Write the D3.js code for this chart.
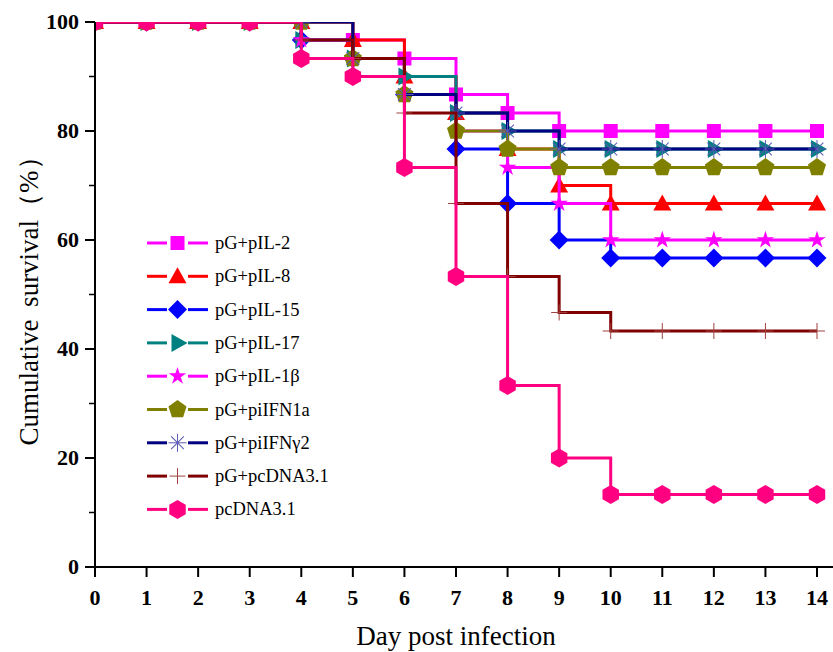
<!DOCTYPE html>
<html>
<head>
<meta charset="utf-8">
<script src="https://cdn.jsdelivr.net/npm/d3@7"></script>
<style>
  html, body { margin: 0; padding: 0; background: #fff; }
  svg { display: block; }
</style>
</head>
<body>
<div id="chart"></div>
<script>
// Kaplan-Meier style survival curves, one step line per treatment group.

const days = [0, 1, 2, 3, 4, 5, 6, 7, 8, 9, 10, 11, 12, 13, 14];
const xTicks = [0, 1, 2, 3, 4, 5, 6, 7, 8, 9, 10, 11, 12, 13, 14];
const yTicks = [0, 20, 40, 60, 80, 100];
const yMinorTicks = [10, 30, 50, 70, 90];

const groups = ['pG+pIL-2', 'pG+pIL-8', 'pG+pIL-15', 'pG+pIL-17', 'pG+pIL-1β',
                'pG+piIFN1a', 'pG+piIFNγ2', 'pG+pcDNA3.1', 'pcDNA3.1'];

const survIL2     = [100, 100, 100, 100, 100, 96.7, 93.3, 86.7, 83.3, 80, 80, 80, 80, 80, 80];
const survIL8     = [100, 100, 100, 100, 100, 96.7, 90, 83.3, 76.7, 70, 66.7, 66.7, 66.7, 66.7, 66.7];
const survIL15    = [100, 100, 100, 100, 96.7, 93.3, 86.7, 76.7, 66.7, 60, 56.7, 56.7, 56.7, 56.7, 56.7];
const survIL17    = [100, 100, 100, 100, 96.7, 93.3, 90, 83.3, 80, 76.7, 76.7, 76.7, 76.7, 76.7, 76.7];
const survIL1b    = [100, 100, 100, 100, 96.7, 93.3, 86.7, 80, 73.3, 66.7, 60, 60, 60, 60, 60];
const survIFN1a   = [100, 100, 100, 100, 100, 93.3, 86.7, 80, 76.7, 73.3, 73.3, 73.3, 73.3, 73.3, 73.3];
const survIFNg2   = [100, 100, 100, 100, 100, 93.3, 86.7, 83.3, 80, 76.7, 76.7, 76.7, 76.7, 76.7, 76.7];
const survPGpc    = [100, 100, 100, 100, 96.7, 93.3, 83.3, 66.7, 53.3, 46.7, 43.3, 43.3, 43.3, 43.3, 43.3];
const survPc      = [100, 100, 100, 100, 93.3, 90, 73.3, 53.3, 33.3, 20, 13.3, 13.3, 13.3, 13.3, 13.3];

const seriesValues = [survIL2, survIL8, survIL15, survIL17, survIL1b, survIFN1a, survIFNg2, survPGpc, survPc];
const colors  = ['#ff00ff', '#ff0000', '#0000ff', '#008080', '#ff00ff', '#808000', '#000080', '#800000', '#ff0080'];
const markers = ['square', 'triangle', 'diamond', 'rtriangle', 'star', 'pentagon', 'asterisk', 'plus', 'hexagon'];

const width = 833, height = 652;
const margin = { left: 95, right: 16, top: 22, bottom: 85 };

const svg = d3.select('#chart').append('svg')
  .attr('width', width).attr('height', height)
  .attr('viewBox', [0, 0, width, height]);

const x = d3.scaleLinear().domain([0, 14]).range([margin.left, width - margin.right]);
const y = d3.scaleLinear().domain([0, 100]).range([height - margin.bottom, margin.top]);

// regular polygon path, r = circumradius, rot in radians (0 = point up)
function polygon(n, r, rot) {
  const pts = d3.range(n).map(i => {
    const a = rot + i * 2 * Math.PI / n;
    return [r * Math.sin(a), -r * Math.cos(a)];
  });
  return 'M' + pts.map(p => p.join(',')).join('L') + 'Z';
}

function drawMarker(g, kind, color) {
  if (kind === 'square') {
    g.append('rect').attr('x', -7).attr('y', -7).attr('width', 14).attr('height', 14).attr('fill', color);
  } else if (kind === 'triangle') {
    g.append('path').attr('d', 'M0,-9L9,7L-9,7Z').attr('fill', color);
  } else if (kind === 'diamond') {
    g.append('path').attr('d', polygon(4, 9.5, 0)).attr('fill', color);
  } else if (kind === 'rtriangle') {
    g.append('path').attr('d', 'M-6,-9L10,0L-6,9Z').attr('fill', color);
  } else if (kind === 'star') {
    g.append('path').attr('d', d3.symbol(d3.symbolStar, 95)()).attr('fill', color);
  } else if (kind === 'pentagon') {
    g.append('path').attr('d', polygon(5, 9.5, 0)).attr('fill', color);
  } else if (kind === 'hexagon') {
    g.append('path').attr('d', polygon(6, 9.5, 0)).attr('fill', color);
  } else if (kind === 'asterisk') {
    [0, 45, 90, 135].forEach(a => {
      g.append('line').attr('x1', -9).attr('x2', 9).attr('y1', 0).attr('y2', 0)
        .attr('transform', `rotate(${a})`)
        .attr('stroke', '#5a5ab4').attr('stroke-width', 1);
    });
  } else if (kind === 'plus') {
    g.append('line').attr('x1', -8).attr('x2', 8).attr('stroke', '#a04040').attr('stroke-width', 1);
    g.append('line').attr('y1', -8).attr('y2', 8).attr('stroke', '#a04040').attr('stroke-width', 1);
  }
}

svg.append('defs').append('clipPath').attr('id', 'plotClip')
  .append('rect')
  .attr('x', margin.left).attr('y', margin.top)
  .attr('width', width - margin.left).attr('height', y(0) - margin.top);

const plot = svg.append('g').attr('clip-path', 'url(#plotClip)');

const line = d3.line()
  .x((d, i) => x(days[i]))
  .y(d => y(d))
  .curve(d3.curveStepAfter);

seriesValues.forEach((vals, s) => {
  const g = plot.append('g');
  g.append('path').datum(vals)
    .attr('d', line)
    .attr('fill', 'none')
    .attr('stroke', colors[s])
    .attr('stroke-width', 3);
  g.selectAll('g.mk').data(vals).join('g')
    .attr('class', 'mk')
    .attr('transform', (d, i) => `translate(${x(days[i])},${y(d)})`)
    .each(function() { drawMarker(d3.select(this), markers[s], colors[s]); });
});

// axes
const axisFont = '"Liberation Serif", "Times New Roman", serif';

svg.append('line')
  .attr('x1', margin.left).attr('x2', width)
  .attr('y1', y(0)).attr('y2', y(0))
  .attr('stroke', '#000').attr('stroke-width', 2);
svg.append('line')
  .attr('x1', margin.left).attr('x2', margin.left)
  .attr('y1', y(0)).attr('y2', y(100))
  .attr('stroke', '#000').attr('stroke-width', 2);

const xAxis = svg.append('g');
xAxis.selectAll('line').data(xTicks).join('line')
  .attr('x1', d => x(d)).attr('x2', d => x(d))
  .attr('y1', y(0)).attr('y2', y(0) + 10)
  .attr('stroke', '#000').attr('stroke-width', 2);
xAxis.selectAll('text').data(xTicks).join('text')
  .attr('x', d => x(d)).attr('y', y(0) + 38)
  .attr('text-anchor', 'middle')
  .attr('font-family', axisFont).attr('font-weight', 'bold').attr('font-size', 22)
  .text(d => d);

const yAxis = svg.append('g');
yAxis.selectAll('line.major').data(yTicks).join('line')
  .attr('class', 'major')
  .attr('x1', margin.left - 10).attr('x2', margin.left)
  .attr('y1', d => y(d)).attr('y2', d => y(d))
  .attr('stroke', '#000').attr('stroke-width', 2);
yAxis.selectAll('line.minor').data(yMinorTicks).join('line')
  .attr('class', 'minor')
  .attr('x1', margin.left - 6).attr('x2', margin.left)
  .attr('y1', d => y(d)).attr('y2', d => y(d))
  .attr('stroke', '#000').attr('stroke-width', 1.5);
yAxis.selectAll('text').data(yTicks).join('text')
  .attr('x', margin.left - 16).attr('y', d => y(d) + 7)
  .attr('text-anchor', 'end')
  .attr('font-family', axisFont).attr('font-weight', 'bold').attr('font-size', 22)
  .text(d => d);

svg.append('text')
  .attr('x', (margin.left + width - margin.right) / 2).attr('y', 645)
  .attr('text-anchor', 'middle')
  .attr('font-family', axisFont).attr('font-size', 27)
  .text('Day post infection');

svg.append('text')
  .attr('transform', `translate(38,${(y(0) + y(100)) / 2}) rotate(-90)`)
  .attr('text-anchor', 'middle')
  .attr('font-family', axisFont).attr('font-size', 27)
  .attr('word-spacing', 6)
  .text('Cumulative survival（%）');

// legend
const legend = svg.append('g').attr('transform', 'translate(147,243)');
groups.forEach((name, i) => {
  const row = legend.append('g').attr('transform', `translate(0,${i * 33.3})`);
  row.append('line').attr('x1', 0).attr('x2', 20).attr('stroke', colors[i]).attr('stroke-width', 3);
  row.append('line').attr('x1', 41).attr('x2', 61).attr('stroke', colors[i]).attr('stroke-width', 3);
  drawMarker(row.append('g').attr('transform', 'translate(30.5,0)'), markers[i], colors[i]);
  row.append('text').attr('x', 68).attr('y', 6)
    .attr('font-family', axisFont).attr('font-size', 18.5)
    .text(name);
});
</script>
</body>
</html>
